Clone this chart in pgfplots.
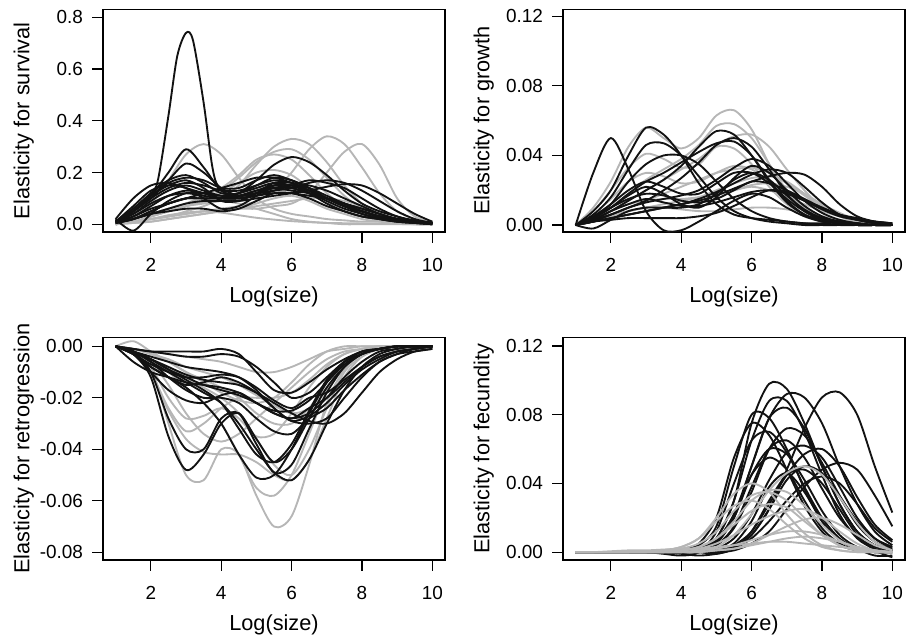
\documentclass[border=0pt]{standalone}
\usepackage{fontspec}
\setmainfont{Liberation Sans}
\usepackage{pgfplots}
\usepackage{pgfplotstable}
\pgfplotsset{compat=1.18}

\definecolor{rgray}{RGB}{182,182,182}
\definecolor{rblack}{RGB}{18,18,18}

% survival: x, gray g1-g13, black b2-b18
\pgfplotstableread{
x g1 g2 g3 g4 g5 g6 g7 g8 g9 g10 g11 g12 g13 b2 b3 b4 b5 b6 b7 b8 b9 b10 b11 b12 b13 b14 b15 b16 b17 b18
1 0 0 0 0 0 0 0 0 0 0 0 0 0 0.01 0.01 0.01 0.005 0.005 0.01 0.01 0.01 0.01 0.005 0.005 0.01 0.02 0.02 0.005 0.01 0.01
1.5 0.03 0.01 0.01 0.01 0.02 0.02 0.01 0.005 0.01 0.01 0.01 0.02 0.005 0.05 0.05 0.04 0.02 0.02 0.06 0.05 0.07 0.03 0.03 0.02 0.05 0.10 -0.025 0.02 0.05 0.04
2 0.08 0.02 0.02 0.02 0.04 0.04 0.03 0.01 0.02 0.03 0.03 0.05 0.01 0.11 0.10 0.08 0.05 0.04 0.12 0.11 0.13 0.06 0.07 0.05 0.11 0.15 0.04 0.04 0.10 0.09
2.5 0.17 0.03 0.03 0.03 0.06 0.06 0.05 0.02 0.035 0.05 0.05 0.08 0.02 0.20 0.17 0.11 0.08 0.06 0.17 0.15 0.15 0.08 0.11 0.08 0.16 0.16 0.09 0.05 0.14 0.13
3 0.27 0.05 0.04 0.04 0.08 0.08 0.07 0.03 0.045 0.07 0.07 0.10 0.03 0.29 0.235 0.12 0.10 0.08 0.19 0.17 0.14 0.10 0.13 0.10 0.18 0.14 0.12 0.06 0.16 0.15
3.5 0.31 0.07 0.05 0.05 0.10 0.11 0.09 0.04 0.05 0.08 0.085 0.11 0.04 0.22 0.20 0.11 0.10 0.09 0.16 0.14 0.10 0.12 0.12 0.10 0.17 0.12 0.12 0.06 0.15 0.13
4 0.27 0.10 0.06 0.05 0.13 0.14 0.12 0.05 0.045 0.09 0.09 0.11 0.05 0.13 0.14 0.10 0.10 0.09 0.12 0.09 0.06 0.14 0.10 0.10 0.14 0.10 0.11 0.05 0.13 0.11
4.5 0.18 0.15 0.07 0.06 0.18 0.19 0.16 0.06 0.035 0.10 0.08 0.12 0.06 0.11 0.11 0.12 0.11 0.09 0.12 0.09 0.07 0.16 0.10 0.11 0.14 0.10 0.12 0.06 0.13 0.11
5 0.10 0.23 0.09 0.06 0.24 0.25 0.20 0.08 0.025 0.12 0.06 0.14 0.07 0.12 0.12 0.17 0.12 0.10 0.15 0.12 0.11 0.18 0.11 0.13 0.17 0.11 0.14 0.09 0.15 0.13
5.5 0.06 0.30 0.13 0.07 0.28 0.27 0.21 0.10 0.018 0.13 0.04 0.15 0.08 0.14 0.14 0.23 0.13 0.11 0.18 0.16 0.15 0.18 0.12 0.14 0.19 0.13 0.16 0.12 0.17 0.15
6 0.04 0.33 0.20 0.08 0.29 0.25 0.19 0.11 0.012 0.13 0.02 0.14 0.09 0.14 0.15 0.26 0.14 0.12 0.17 0.16 0.15 0.16 0.12 0.13 0.17 0.15 0.15 0.12 0.16 0.14
6.5 0.03 0.31 0.29 0.12 0.25 0.19 0.14 0.09 0.008 0.12 0.01 0.12 0.10 0.12 0.14 0.24 0.16 0.13 0.14 0.13 0.12 0.13 0.11 0.12 0.14 0.17 0.13 0.10 0.15 0.12
7 0.02 0.24 0.34 0.20 0.18 0.12 0.09 0.06 0.005 0.10 0.005 0.10 0.10 0.10 0.11 0.19 0.17 0.145 0.10 0.10 0.08 0.10 0.10 0.10 0.10 0.16 0.10 0.07 0.13 0.09
7.5 0.015 0.15 0.31 0.28 0.11 0.07 0.05 0.04 0.004 0.08 0 0.08 0.09 0.07 0.08 0.13 0.16 0.155 0.07 0.07 0.05 0.07 0.08 0.08 0.07 0.14 0.08 0.05 0.10 0.06
8 0.01 0.08 0.22 0.31 0.06 0.04 0.03 0.02 0.003 0.06 0 0.06 0.07 0.05 0.05 0.08 0.13 0.15 0.04 0.05 0.03 0.05 0.06 0.05 0.05 0.10 0.06 0.03 0.07 0.04
8.5 0.01 0.04 0.12 0.23 0.03 0.02 0.015 0.01 0.002 0.04 0 0.04 0.05 0.03 0.03 0.05 0.09 0.12 0.025 0.03 0.02 0.03 0.04 0.03 0.03 0.06 0.04 0.02 0.04 0.02
9 0.005 0.02 0.05 0.10 0.01 0.01 0.01 0.005 0.001 0.02 0 0.02 0.03 0.02 0.02 0.03 0.05 0.08 0.015 0.02 0.01 0.02 0.02 0.02 0.02 0.03 0.02 0.01 0.02 0.01
9.5 0.005 0.01 0.02 0.03 0.005 0.005 0 0 0 0.01 0 0.01 0.01 0.01 0.01 0.01 0.02 0.04 0.008 0.01 0.005 0.01 0.01 0.01 0.01 0.015 0.01 0.005 0.01 0.005
10 0 0 0 0.01 0 0 0 0 0 0 0 0 0 0.005 0.005 0.005 0.005 0.01 0.003 0.005 0 0.005 0.005 0.005 0.005 0.005 0.005 0 0.005 0
}\survT

% growth: x, gray h1-h10, black k1-k16
\pgfplotstableread{
x h1 h2 h3 h4 h5 h6 h7 h8 h9 h10 k1 k2 k3 k4 k5 k6 k7 k8 k9 k10 k11 k12 k13 k14 k15 k16
1 0 0 0 0 0 0 0 0 0 0 0 0 0 0 0 0 0 0 0 0 0 0 0 0 0 0
1.5 0.01 0.004 0.003 0.008 0.006 0.003 0.004 0.002 0.003 0.002 0.03 0.008 0.006 0.004 0.003 0.002 0.004 0.002 0.002 0.003 0.005 0.003 0.002 0.004 -0.002 0.004
2 0.025 0.01 0.008 0.02 0.015 0.006 0.008 0.004 0.006 0.005 0.05 0.02 0.016 0.012 0.008 0.006 0.01 0.004 0.004 0.006 0.012 0.008 0.003 0.01 0.003 0.01
2.5 0.045 0.018 0.014 0.033 0.025 0.01 0.012 0.006 0.008 0.008 0.032 0.04 0.032 0.025 0.014 0.01 0.018 0.006 0.006 0.01 0.02 0.012 0.004 0.017 0.008 0.015
3 0.056 0.026 0.02 0.041 0.03 0.014 0.014 0.008 0.01 0.01 0.008 0.056 0.046 0.035 0.02 0.014 0.025 0.008 0.008 0.013 0.025 0.015 0.004 0.022 0.01 0.018
3.5 0.05 0.032 0.026 0.038 0.028 0.018 0.015 0.01 0.01 0.012 -0.003 0.052 0.047 0.04 0.026 0.02 0.03 0.01 0.01 0.015 0.022 0.013 0.004 0.018 0.01 0.017
4 0.044 0.038 0.032 0.033 0.024 0.022 0.015 0.012 0.009 0.014 -0.003 0.04 0.04 0.04 0.034 0.027 0.036 0.012 0.012 0.017 0.018 0.011 0.004 0.012 0.01 0.014
4.5 0.05 0.046 0.038 0.035 0.025 0.026 0.016 0.014 0.008 0.016 0.002 0.024 0.028 0.035 0.045 0.036 0.042 0.014 0.015 0.02 0.018 0.011 0.005 0.01 0.012 0.013
5 0.063 0.057 0.046 0.045 0.03 0.03 0.018 0.017 0.008 0.02 0.008 0.012 0.016 0.025 0.054 0.046 0.047 0.017 0.019 0.026 0.024 0.013 0.007 0.016 0.018 0.015
5.5 0.066 0.058 0.051 0.044 0.034 0.032 0.02 0.02 0.009 0.024 0.014 0.006 0.008 0.015 0.052 0.05 0.048 0.021 0.024 0.033 0.03 0.016 0.011 0.027 0.026 0.02
6 0.055 0.05 0.052 0.035 0.032 0.033 0.022 0.023 0.01 0.027 0.018 0.004 0.004 0.008 0.04 0.045 0.04 0.025 0.029 0.038 0.03 0.019 0.016 0.034 0.03 0.025
6.5 0.035 0.035 0.045 0.022 0.025 0.03 0.02 0.024 0.01 0.028 0.016 0.003 0.002 0.004 0.025 0.032 0.026 0.028 0.032 0.034 0.024 0.02 0.02 0.03 0.026 0.024
7 0.018 0.02 0.032 0.012 0.016 0.024 0.016 0.022 0.009 0.025 0.01 0.002 0.001 0.002 0.013 0.018 0.014 0.03 0.03 0.024 0.015 0.018 0.019 0.02 0.017 0.02
7.5 0.008 0.01 0.02 0.006 0.009 0.017 0.012 0.018 0.007 0.018 0.005 0.001 0 0.001 0.006 0.008 0.006 0.029 0.022 0.014 0.008 0.014 0.014 0.011 0.009 0.015
8 0.004 0.005 0.01 0.003 0.005 0.01 0.008 0.012 0.005 0.011 0.002 0.001 0 0 0.003 0.003 0.002 0.022 0.013 0.007 0.004 0.01 0.009 0.005 0.004 0.01
8.5 0.002 0.002 0.005 0.001 0.002 0.005 0.005 0.007 0.003 0.006 0.001 0 0 0 0.001 0.001 0.001 0.012 0.006 0.003 0.002 0.006 0.005 0.002 0.002 0.006
9 0.001 0.001 0.002 0 0.001 0.002 0.003 0.003 0.002 0.003 0 0 0 0 0 0 0 0.005 0.003 0.001 0.001 0.004 0.003 0.001 0.001 0.003
9.5 0 0 0.001 0 0 0.001 0.001 0.001 0.001 0.001 0 0 0 0 0 0 0 0.002 0.001 0 0 0.002 0.002 0 0 0.001
10 0 0 0 0 0 0 0 0 0 0 0 0 0 0 0 0 0 0.001 0 0 0 0.001 0.001 0 0 0
}\growT

% retrogression: x, gray r1-r11, black s1-s15
\pgfplotstableread{
x r1 r2 r3 r4 r5 r6 r7 r8 r9 r10 r11 s1 s2 s3 s4 s5 s6 s7 s8 s9 s10 s11 s12 s13 s14 s15
1 0 0 0 0 0 0 0 0 0 0 0 0 0 0 0 0 0 0 0 0 0 0 0 0 0 0
1.5 -0.002 -0.002 -0.003 -0.002 -0.002 -0.001 -0.001 -0.002 -0.001 0.002 -0.002 -0.003 -0.002 -0.003 -0.002 -0.002 -0.001 -0.002 -0.002 -0.002 -0.003 -0.002 -0.001 -0.003 -0.006 -0.003
2 -0.008 -0.005 -0.01 -0.008 -0.006 -0.003 -0.003 -0.01 -0.002 -0.002 -0.005 -0.012 -0.01 -0.008 -0.006 -0.005 -0.002 -0.004 -0.005 -0.005 -0.007 -0.006 -0.002 -0.01 -0.01 -0.008
2.5 -0.03 -0.01 -0.025 -0.02 -0.015 -0.006 -0.005 -0.024 -0.003 -0.006 -0.008 -0.035 -0.028 -0.012 -0.01 -0.009 -0.003 -0.006 -0.008 -0.009 -0.01 -0.012 -0.002 -0.017 -0.012 -0.012
3 -0.05 -0.016 -0.036 -0.028 -0.026 -0.01 -0.008 -0.033 -0.004 -0.01 -0.012 -0.048 -0.04 -0.016 -0.014 -0.013 -0.004 -0.008 -0.011 -0.012 -0.012 -0.017 -0.002 -0.021 -0.014 -0.015
3.5 -0.052 -0.022 -0.041 -0.027 -0.034 -0.014 -0.01 -0.03 -0.005 -0.013 -0.016 -0.042 -0.04 -0.022 -0.018 -0.017 -0.004 -0.009 -0.013 -0.015 -0.012 -0.02 -0.002 -0.022 -0.015 -0.014
4 -0.04 -0.03 -0.042 -0.024 -0.037 -0.018 -0.012 -0.024 -0.006 -0.016 -0.02 -0.03 -0.028 -0.03 -0.022 -0.022 -0.003 -0.01 -0.014 -0.017 -0.011 -0.02 -0.001 -0.019 -0.016 -0.012
4.5 -0.042 -0.042 -0.042 -0.028 -0.034 -0.021 -0.015 -0.02 -0.008 -0.02 -0.026 -0.026 -0.026 -0.042 -0.03 -0.032 -0.004 -0.012 -0.015 -0.019 -0.012 -0.022 -0.003 -0.018 -0.018 -0.014
5 -0.058 -0.055 -0.045 -0.035 -0.028 -0.022 -0.019 -0.02 -0.01 -0.026 -0.036 -0.036 -0.038 -0.051 -0.04 -0.042 -0.008 -0.017 -0.018 -0.022 -0.016 -0.028 -0.01 -0.022 -0.022 -0.018
5.5 -0.07 -0.058 -0.05 -0.034 -0.022 -0.02 -0.023 -0.02 -0.01 -0.03 -0.046 -0.045 -0.049 -0.05 -0.049 -0.045 -0.014 -0.024 -0.022 -0.026 -0.021 -0.033 -0.017 -0.026 -0.025 -0.024
6 -0.066 -0.05 -0.052 -0.026 -0.016 -0.014 -0.026 -0.018 -0.008 -0.03 -0.05 -0.04 -0.046 -0.04 -0.052 -0.038 -0.02 -0.029 -0.026 -0.028 -0.024 -0.034 -0.018 -0.028 -0.025 -0.029
6.5 -0.046 -0.034 -0.044 -0.016 -0.01 -0.007 -0.024 -0.013 -0.005 -0.024 -0.04 -0.028 -0.032 -0.026 -0.044 -0.025 -0.018 -0.03 -0.029 -0.026 -0.02 -0.028 -0.014 -0.024 -0.021 -0.027
7 -0.022 -0.017 -0.028 -0.008 -0.005 -0.002 -0.016 -0.007 -0.002 -0.014 -0.024 -0.016 -0.018 -0.014 -0.03 -0.013 -0.012 -0.028 -0.03 -0.02 -0.018 -0.024 -0.009 -0.02 -0.014 -0.022
7.5 -0.009 -0.007 -0.012 -0.003 -0.002 0 -0.008 -0.003 -0.001 -0.006 -0.01 -0.008 -0.008 -0.006 -0.017 -0.006 -0.006 -0.02 -0.026 -0.012 -0.013 -0.017 -0.005 -0.014 -0.007 -0.015
8 -0.003 -0.003 -0.004 -0.001 -0.001 0 -0.003 -0.001 0 -0.002 -0.004 -0.003 -0.003 -0.002 -0.008 -0.002 -0.003 -0.012 -0.018 -0.006 -0.008 -0.011 -0.002 -0.008 -0.003 -0.009
8.5 -0.001 -0.001 -0.001 0 0 0 -0.001 0 0 -0.001 -0.001 -0.001 -0.001 -0.001 -0.003 -0.001 -0.001 -0.006 -0.01 -0.002 -0.004 -0.006 -0.001 -0.004 -0.001 -0.005
9 0 0 0 0 0 0 0 0 0 0 0 0 0 0 -0.001 0 0 -0.003 -0.005 -0.001 -0.002 -0.003 0 -0.002 0 -0.002
9.5 0 0 0 0 0 0 0 0 0 0 0 0 0 0 0 0 0 -0.002 -0.002 0 -0.001 -0.001 0 -0.001 0 -0.001
10 0 0 0 0 0 0 0 0 0 0 0 0 0 0 0 0 0 -0.001 -0.001 0 0 0 0 0 0 0
}\retroT

% fecundity: x, gray q1-q11, black f1-f19
\pgfplotstableread{
x q1 q2 q3 q4 q5 q6 q7 q8 q9 q10 q11 f1 f2 f3 f4 f5 f6 f7 f8 f9 f10 f11 f12 f13 f14 f15 f16 f17 f18 f19
1 0 0 0 0 0 0 0 0 0 0 0 0 0 0 0 0 0 0 0 0 0 0 0 0 0 0 0 0 0 0
1.5 0 0 0 0 0 0 0 0 0 0 0 0 0 0 0 0 0 0 0 0 0 0 0 0 0 0 0 0 0 0
2 0 0 0 0 0 0 0 0 0 0 0.0005 0 0 0 0 0 0 0 0 0 0 0 0 0 0 0 0 0 0 0
2.5 0 0 0 0 0 0 0 0 0 0 0.001 0 0 0 0 0 0 0 0 0 0 0 0 0 0 0 0 0 0 0
3 0.0005 0 0.0005 0 0 0 0 0 0 0 0.001 0 0 0 0 0 0 0 0 0 0 0 0 0 0 0 0 0 0 0
3.5 0.001 0 0.001 0 0 0 0 0.0005 0.001 0 0.0015 0.0005 0 0 0 0.0005 0 0.0005 0 0 0 0 0 0 0 0 0 0 -0.001 0
4 0.003 0.001 0.003 0 0.001 0 0 0.001 0.002 0 0.002 0.001 0 0.0005 0.0005 0.001 0.0005 0.001 0 0 0 0 0 0 0.0005 0 0 -0.001 -0.002 0
4.5 0.008 0.003 0.008 0.001 0.002 0.001 0 0.003 0.005 0 0.002 0.003 0 0.002 0.002 0.004 0.002 0.005 0.001 0.001 0 0.001 0 0 0.002 0 0 -0.002 0 0
5 0.02 0.008 0.018 0.003 0.005 0.002 0.001 0.008 0.012 0.001 0.003 0.008 0.001 0.007 0.008 0.015 0.006 0.02 0.004 0.004 0.002 0.005 0 0.001 0.006 0.001 -0.001 -0.001 0.012 0
5.5 0.034 0.018 0.027 0.01 0.01 0.004 0.002 0.016 0.024 0.002 0.004 0.03 0.003 0.022 0.03 0.05 0.02 0.055 0.014 0.015 0.008 0.02 0.001 0.005 0.022 0.004 0.002 0.002 0.04 0.002
6 0.04 0.03 0.03 0.022 0.016 0.007 0.004 0.024 0.033 0.005 0.005 0.075 0.01 0.05 0.065 0.08 0.05 0.075 0.035 0.038 0.022 0.045 0.005 0.018 0.045 0.012 0.01 0.012 0.065 0.008
6.5 0.035 0.036 0.025 0.036 0.021 0.01 0.006 0.028 0.035 0.01 0.006 0.098 0.025 0.078 0.088 0.078 0.078 0.068 0.06 0.06 0.042 0.06 0.012 0.038 0.055 0.028 0.025 0.03 0.07 0.018
7 0.022 0.035 0.016 0.046 0.024 0.012 0.008 0.026 0.03 0.015 0.006 0.095 0.048 0.092 0.088 0.06 0.084 0.048 0.072 0.065 0.058 0.057 0.025 0.046 0.048 0.045 0.042 0.045 0.058 0.03
7.5 0.011 0.027 0.008 0.05 0.025 0.012 0.009 0.018 0.02 0.019 0.005 0.075 0.072 0.09 0.07 0.037 0.072 0.027 0.068 0.055 0.062 0.042 0.038 0.035 0.03 0.057 0.05 0.048 0.038 0.04
8 0.004 0.016 0.003 0.045 0.02 0.01 0.008 0.01 0.01 0.02 0.004 0.05 0.09 0.075 0.045 0.018 0.05 0.012 0.052 0.037 0.055 0.024 0.048 0.018 0.014 0.06 0.046 0.04 0.02 0.044
8.5 0.001 0.007 0.001 0.032 0.012 0.006 0.006 0.004 0.004 0.016 0.003 0.028 0.093 0.05 0.022 0.007 0.028 0.004 0.033 0.02 0.038 0.01 0.052 0.007 0.005 0.05 0.032 0.025 0.008 0.04
9 0 0.002 0 0.017 0.005 0.003 0.003 0.001 0.001 0.01 0.002 0.012 0.08 0.028 0.008 0.002 0.012 0.001 0.018 0.009 0.02 0.003 0.048 0.002 0.001 0.032 0.016 0.01 0.002 0.028
9.5 0 0 0 0.006 0.001 0.001 0.001 0 0 0.004 0.001 0.004 0.05 0.012 0.002 0 0.004 0 0.008 0.003 0.008 0.001 0.033 0 0 0.016 0.006 0.001 -0.002 0.014
10 0 0 0 0.001 0 0 0 0 0 0.001 0 0.001 0.023 0.004 0 0 0.001 0 0.003 0.001 0.002 0 0.015 0 0 0.007 0.001 -0.003 -0.002 0.006
}\fecT

\pgfplotsset{
  elast/.style={
    width=256.5pt, height=167pt, scale only axis, anchor=south west,
    xmin=0.64, xmax=10.36,
    xtick={2,4,6,8,10}, xticklabels={2,4,6,8,10},
    scaled y ticks=false,
    tick align=outside, tick pos=left,
    major tick length=8pt,
    axis line style={line width=1pt},
    every tick/.style={black, line width=0.9pt},
    tick label style={font=\fontsize{14.2}{16}\selectfont},
    xticklabel style={yshift=-8.5pt},
    yticklabel style={xshift=-3.5pt},
    label style={font=\fontsize{16.3}{18}\selectfont},
    xlabel={Log(size)},
    xlabel style={at={(axis description cs:0.5,-0.29)}, anchor=center},
    ylabel style={at={(axis description cs:-0.232,0.5)}, anchor=center},
    every axis plot/.append style={smooth, line width=1.4pt},
  },
  gr/.style={color=rgray},
  bk/.style={color=rblack},
}

\begin{document}
\begin{tikzpicture}
\path[use as bounding box] (0,0) rectangle (684.75pt,477.75pt);

% survival
\begin{axis}[elast, at={(77.25pt,303.75pt)},
  ymin=-0.03, ymax=0.831,
  ytick={0,0.2,0.4,0.6,0.8}, yticklabels={0.0,0.2,0.4,0.6,0.8},
  ylabel={Elasticity for survival}]
\pgfplotsinvokeforeach{g1,g2,g3,g4,g5,g6,g7,g8,g9,g10,g11,g12,g13}{
  \addplot[gr] table[x=x,y=#1]{\survT};}
\pgfplotsinvokeforeach{b2,b3,b4,b5,b6,b7,b8,b9,b10,b11,b12,b13,b14,b15,b16,b17,b18}{
  \addplot[bk] table[x=x,y=#1]{\survT};}
\addplot[bk] coordinates {(1,0.01) (1.5,0.06) (2,0.12) (2.2,0.17) (2.5,0.42)
  (2.75,0.65) (3,0.74) (3.2,0.71) (3.5,0.47) (3.75,0.22) (3.95,0.14) (4.5,0.1)
  (5,0.12) (5.5,0.15) (6,0.15) (6.5,0.13) (7,0.1) (7.5,0.07) (8,0.05) (8.5,0.03)
  (9,0.02) (9.5,0.01) (10,0.005)};
\end{axis}

% growth
\begin{axis}[elast, at={(422.25pt,303.75pt)},
  ymin=-0.004, ymax=0.124,
  ytick={0,0.04,0.08,0.12}, yticklabels={0.00,0.04,0.08,0.12},
  ylabel={Elasticity for growth}]
\pgfplotsinvokeforeach{h1,h2,h3,h4,h5,h6,h7,h8,h9,h10}{
  \addplot[gr] table[x=x,y=#1]{\growT};}
\pgfplotsinvokeforeach{k1,k2,k3,k4,k5,k6,k7,k8,k9,k10,k11,k12,k13,k14,k15,k16}{
  \addplot[bk] table[x=x,y=#1]{\growT};}
\end{axis}

% retrogression
\begin{axis}[elast, at={(77.25pt,57.75pt)},
  ymin=-0.083, ymax=0.0035,
  ytick={-0.08,-0.06,-0.04,-0.02,0}, yticklabels={-0.08,-0.06,-0.04,-0.02,0.00},
  ylabel={Elasticity for retrogression}]
\pgfplotsinvokeforeach{r1,r2,r3,r4,r5,r6,r7,r8,r9,r10,r11}{
  \addplot[gr] table[x=x,y=#1]{\retroT};}
\pgfplotsinvokeforeach{s1,s2,s3,s4,s5,s6,s7,s8,s9,s10,s11,s12,s13,s14,s15}{
  \addplot[bk] table[x=x,y=#1]{\retroT};}
\end{axis}

% fecundity
\begin{axis}[elast, at={(422.25pt,57.75pt)},
  ymin=-0.0046, ymax=0.125,
  ytick={0,0.04,0.08,0.12}, yticklabels={0.00,0.04,0.08,0.12},
  ylabel={Elasticity for fecundity}]
\pgfplotsinvokeforeach{f1,f2,f3,f4,f5,f6,f7,f8,f9,f10,f11,f12,f13,f14,f15,f16,f17,f18,f19}{
  \addplot[bk] table[x=x,y=#1]{\fecT};}
\pgfplotsinvokeforeach{q1,q2,q3,q4,q5,q6,q7,q8,q9,q10,q11}{
  \addplot[gr] table[x=x,y=#1]{\fecT};}
\end{axis}
\end{tikzpicture}
\end{document}
